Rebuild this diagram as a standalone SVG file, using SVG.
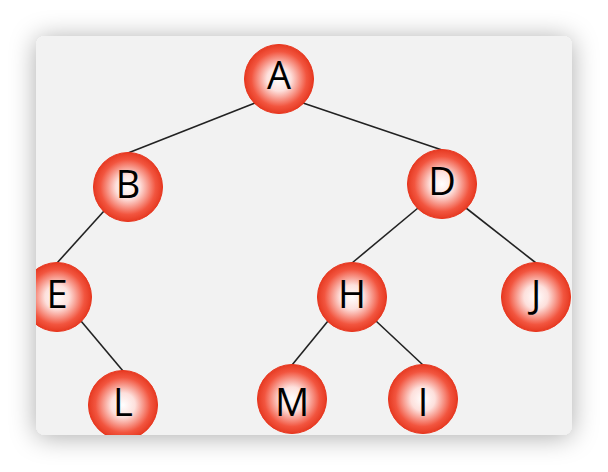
<svg xmlns="http://www.w3.org/2000/svg" width="608" height="472" viewBox="0 0 608 472">
<defs>
<radialGradient id="g" cx="50%" cy="50%" r="50%">
<stop offset="0" stop-color="#ffffff"/>
<stop offset="0.35" stop-color="#fde0dc"/>
<stop offset="0.8" stop-color="#f2553f"/>
<stop offset="1" stop-color="#e63a22"/>
</radialGradient>
<filter id="sh" x="-20%" y="-20%" width="140%" height="140%">
<feDropShadow dx="0" dy="2" stdDeviation="13" flood-color="#000" flood-opacity="0.33"/>
</filter>
<clipPath id="card"><rect x="36" y="36" width="536" height="399" rx="9"/></clipPath>
<style>
.n circle{fill:url(#g);stroke:#e8341c;stroke-width:1}
.n text{font-family:"Open Sans","DejaVu Sans",sans-serif;font-size:38px;fill:#000;text-anchor:middle}
.e line{stroke:#222;stroke-width:1.6}
</style>
</defs>
<rect width="608" height="472" fill="#fff"/>
<rect x="36" y="36" width="536" height="399" rx="9" fill="#f2f2f2" filter="url(#sh)"/>
<g clip-path="url(#card)">
<g class="e" id="edges">
<line x1="255" y1="103" x2="128" y2="153"/>
<line x1="303" y1="103" x2="442" y2="150"/>
<line x1="104" y1="211" x2="57" y2="263"/>
<line x1="81" y1="321" x2="123" y2="371"/>
<line x1="418" y1="208" x2="352" y2="263"/>
<line x1="466" y1="208" x2="536" y2="263"/>
<line x1="328" y1="321" x2="292" y2="365"/>
<line x1="376" y1="321" x2="423" y2="365"/>
</g>
<g class="n" id="A"><circle cx="279" cy="79" r="34.5"/><text x="279" y="89">A</text></g>
<g class="n" id="B"><circle cx="128" cy="187" r="34.5"/><text x="128" y="198">B</text></g>
<g class="n" id="D"><circle cx="442" cy="184" r="34.5"/><text x="442" y="195">D</text></g>
<g class="n" id="E"><circle cx="57" cy="297" r="34.5"/><text x="57" y="308">E</text></g>
<g class="n" id="H"><circle cx="352" cy="297" r="34.5"/><text x="352" y="308">H</text></g>
<g class="n" id="J"><circle cx="536" cy="297" r="34.5"/><text x="536" y="308">J</text></g>
<g class="n" id="L"><circle cx="123" cy="405" r="34.5"/><text x="123" y="416">L</text></g>
<g class="n" id="M"><circle cx="292" cy="399" r="34.5"/><text x="292" y="416">M</text></g>
<g class="n" id="I"><circle cx="423" cy="399" r="34.5"/><text x="423" y="416">I</text></g>
</g>
</svg>
